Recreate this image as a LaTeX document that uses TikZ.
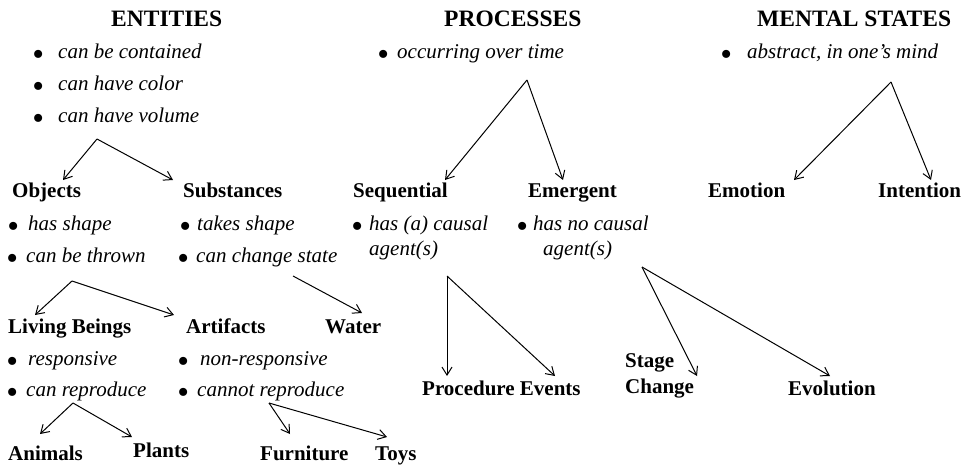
\documentclass[tikz,border=0pt]{standalone}
\usepackage{fontspec}
\setmainfont{Liberation Serif}[
  UprightFont={Liberation Serif},
  BoldFont={Liberation Serif Bold},
  ItalicFont={Liberation Serif Italic},
  BoldItalicFont={Liberation Serif Bold Italic}]
\usetikzlibrary{arrows.meta}
\newcommand\bul[2]{\llap{\raisebox{-7.3pt}{\scalebox{1.6}{\upshape\textbullet}}\hspace{#1pt}}#2}
\begin{document}
\begin{tikzpicture}[x=1pt,y=-1pt,
  title/.style={anchor=base west,inner sep=0pt,font=\fontsize{23.5}{28}\selectfont\bfseries},
  lab/.style={anchor=base west,inner sep=0pt,font=\fontsize{21}{26}\selectfont\bfseries},
  itm/.style={anchor=base west,inner sep=0pt,font=\fontsize{21}{25}\selectfont\itshape},
  conn/.style={line width=1pt,-{Straight Barb[length=8pt,width=10pt]}}]
\useasboundingbox (0,0) rectangle (966,466);
% titles
\node[title] (ent) at (111,26) {ENTITIES};
\node[title] (pro) at (444,26) {PROCESSES};
\node[title] (men) at (757,26) {MENTAL STATES};
% top-level bullets
\node[itm] (e1) at (58,58) {\bul{14.1}{can be contained}};
\node[itm] (e2) at (58,90) {\bul{14.1}{can have color}};
\node[itm] (e3) at (58,122) {\bul{14.1}{can have volume}};
\node[itm] (p1) at (397,58) {\bul{8.1}{occurring over time}};
\node[itm] (m1) at (747,58) {\bul{15.1}{abstract, in one’s mind}};
% level 2
\node[lab] (obj) at (12,197) {Objects};
\node[lab] (sub) at (183,197) {Substances};
\node[lab] (seq) at (353,197) {Sequential};
\node[lab] (eme) at (528,197) {Emergent};
\node[lab] (emo) at (708,197) {Emotion};
\node[lab] (int) at (878,197) {Intention};
\node[itm] (o1) at (28,230) {\bul{9.1}{has shape}};
\node[itm] (o2) at (26,262) {\bul{8.1}{can be thrown}};
\node[itm] (s1) at (197,230) {\bul{6.1}{takes shape}};
\node[itm] (s2) at (196,262) {\bul{7.1}{can change state}};
\node[itm] (q1) at (369,230) {\bul{6.1}{has (a) causal}};
\node[itm] (q2) at (369,255) {agent(s)};
\node[itm] (g1) at (533,230) {\bul{5.1}{has no causal}};
\node[itm] (g2) at (543,255) {agent(s)};
% level 3
\node[lab] (liv) at (8,333) {Living Beings};
\node[lab] (art) at (186,333) {Artifacts};
\node[lab] (wat) at (325,333) {Water};
\node[itm] (l1) at (28,365) {\bul{10.1}{responsive}};
\node[itm] (l2) at (26,396) {\bul{8.1}{can reproduce}};
\node[itm] (a1) at (200,365) {\bul{11.1}{non-responsive}};
\node[itm] (a2) at (197,396) {\bul{8.1}{cannot reproduce}};
\node[lab] (prc) at (422,395) {Procedure Events};
\node[lab] (stg) at (625,367) {Stage};
\node[lab] (chg) at (625,393) {Change};
\node[lab] (evo) at (788,395) {Evolution};
% level 4
\node[lab] (ani) at (8,460) {Animals};
\node[lab] (pla) at (133,457) {Plants};
\node[lab] (fur) at (260,460) {Furniture};
\node[lab] (toy) at (375,460) {Toys};
% connector points
\coordinate (eA) at (97,139);  \coordinate (eL) at (63,180);  \coordinate (eR) at (173,180);
\coordinate (oA) at (72,281);  \coordinate (oL) at (35,315);  \coordinate (oR) at (174,315);
\coordinate (wA) at (293,276); \coordinate (wT) at (362,313);
\coordinate (lA) at (73,403);  \coordinate (lL) at (40,434);  \coordinate (lR) at (132,437);
\coordinate (aA) at (269,403); \coordinate (aL) at (290,434); \coordinate (aR) at (387,437);
\coordinate (pA) at (527,80);  \coordinate (pL) at (445,180); \coordinate (pR) at (563,180);
\coordinate (qA) at (447,276); \coordinate (qL) at (447,376); \coordinate (qR) at (555,376);
\coordinate (gA) at (642,267); \coordinate (gL) at (697,376); \coordinate (gR) at (830,376);
\coordinate (mA) at (891,82);  \coordinate (mL) at (794,180); \coordinate (mR) at (931,180);
\draw[conn] (eA) -- (eL); \draw[conn] (eA) -- (eR);
\draw[conn] (oA) -- (oL); \draw[conn] (oA) -- (oR);
\draw[conn] (wA) -- (wT);
\draw[conn] (lA) -- (lL); \draw[conn] (lA) -- (lR);
\draw[conn] (aA) -- (aL); \draw[conn] (aA) -- (aR);
\draw[conn] (pA) -- (pL); \draw[conn] (pA) -- (pR);
\draw[conn] (qA) -- (qL); \draw[conn] (qA) -- (qR);
\draw[conn] (gA) -- (gL); \draw[conn] (gA) -- (gR);
\draw[conn] (mA) -- (mL); \draw[conn] (mA) -- (mR);
\end{tikzpicture}
\end{document}
